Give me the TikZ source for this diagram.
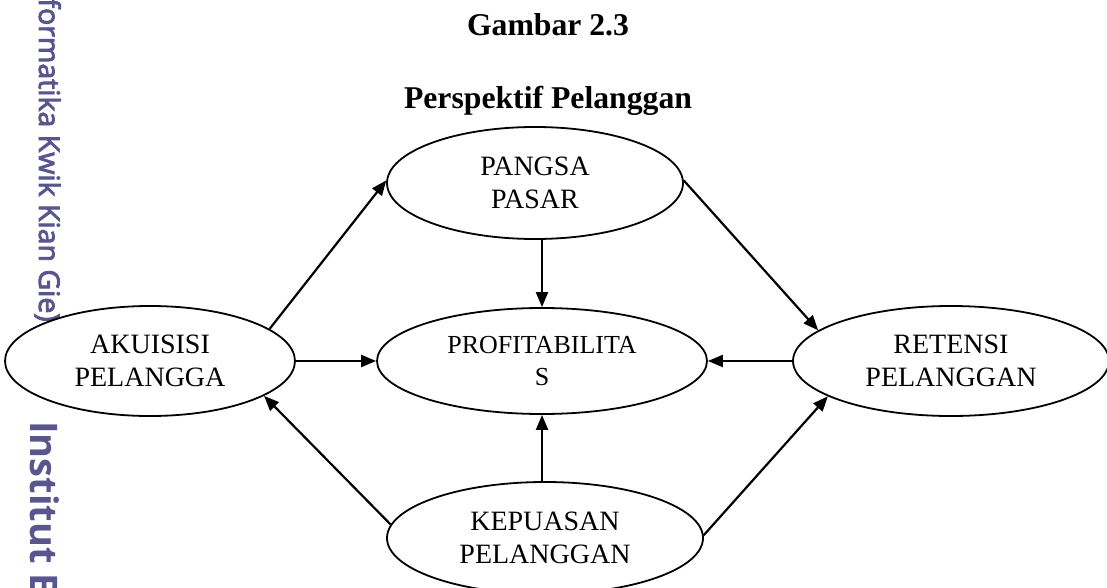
\documentclass[tikz,border=0pt]{standalone}
\usepackage{fontspec}
\setmainfont{Liberation Serif}
\newfontfamily\wmfont[FakeBold=3]{Open Sans}
\newfontfamily\wmbfont{Open Sans}
\usetikzlibrary{arrows.meta,calc,shapes.geometric}
\definecolor{wmc}{RGB}{88,86,140}
\begin{document}
\begin{tikzpicture}[x=1pt,y=-1pt,
  ell/.style={draw, ellipse, line width=1.8pt, inner sep=0pt, align=center,
    font=\fontsize{28}{33.6}\selectfont},
  arr/.style={-{Triangle[length=15pt,width=12pt]}, line width=2.2pt},
  wm/.style={text=wmc, rotate=-90, inner sep=0pt},
  ttl/.style={anchor=base, font=\bfseries\fontsize{31.7}{38}\selectfont}]
\useasboundingbox (0,0) rectangle (1107,588);
\fill[white] (0,0) rectangle (1107,588);
% watermark
\node[wm, anchor=base east, font=\wmfont\fontsize{28.5}{28.5}\selectfont] (wm1) at (39,322) {formatika Kwik Kian Gie)};
\node[wm, anchor=base west, font=\wmbfont\bfseries\fontsize{38}{38}\selectfont] (wm2) at (30,421) {Institut B};
% titles
\node[ttl] (t1) at (548,36) {Gambar 2.3};
\node[ttl] (t2) at (548,109) {Perspektif Pelanggan};
% ellipses
\node[ell, minimum width=296pt, minimum height=112pt] (pangsa) at (535,183) {PANGSA\\PASAR};
\node[ell, minimum width=290pt, minimum height=110pt] (aku) at (150,361) {AKUISISI\\PELANGGA};
\node[ell, minimum width=330pt, minimum height=106pt, font=\fontsize{26}{31.2}\selectfont] (prof) at (542,361) {PROFITABILITA\\S};
\node[ell, minimum width=316pt, minimum height=110pt] (ret) at (951,361) {RETENSI\\PELANGGAN};
\node[ell, minimum width=316pt, minimum height=112pt] (kep) at (545,538) {KEPUASAN\\PELANGGAN};
% arrows
\draw[arr] (aku.15) -- (pangsa.179);
\draw[arr] (aku.east) -- (prof.west);
\draw[arr] (pangsa.south -| prof.north) -- (prof.north);
\draw[arr] (pangsa.1) -- (ret.167);
\draw[arr] (ret.west) -- (prof.east);
\draw[arr] (kep.north -| prof.south) -- (prof.south);
\draw[arr] (kep.175) -- (aku.343);
\draw[arr] (kep.1) -- (ret.196);
\end{tikzpicture}
\end{document}
